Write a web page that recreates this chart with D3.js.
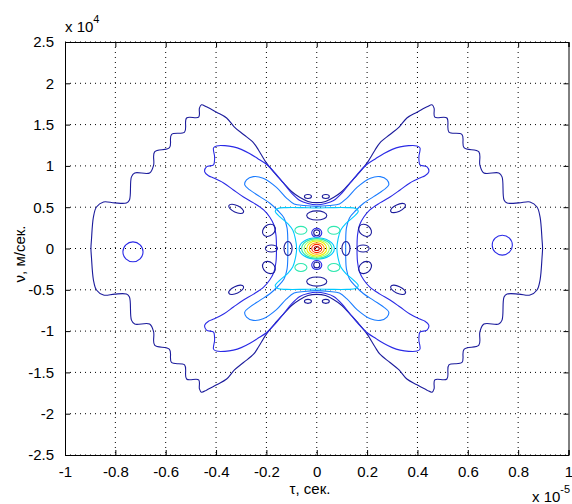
<!DOCTYPE html>
<html>
<head>
<meta charset="utf-8">
<script src="https://cdn.jsdelivr.net/npm/d3@7"></script>
<style>
  body { margin: 0; background: #fff; }
  svg { display: block; font-family: "Liberation Sans", Arial, sans-serif; }
</style>
</head>
<body>
<svg id="chart" width="572" height="504"></svg>
<script>
// ticks (tau in 1e-5 s, nu in 1e4 m/s)
var tauTicks = [-1, -0.8, -0.6, -0.4, -0.2, 0, 0.2, 0.4, 0.6, 0.8, 1];
var tauLabels = ['-1', '-0.8', '-0.6', '-0.4', '-0.2', '0', '0.2', '0.4', '0.6', '0.8', '1'];
var nuTicks = [-2.5, -2, -1.5, -1, -0.5, 0, 0.5, 1, 1.5, 2, 2.5];
var nuLabels = ['-2.5', '-2', '-1.5', '-1', '-0.5', '0', '0.5', '1', '1.5', '2', '2.5'];

// contour level colours (jet)
var levelColors = ['#1c1c9c', '#2a2ae6', '#1a7cff', '#00c8ff', '#30e8b0', '#9cff60', '#f0f000', '#ffa000', '#ff3000', '#c00000'];

// first quadrant of each symmetric contour: from tau = 0 to nu = 0
var outerQ1 = [[0, 0.555], [0.035, 0.57], [0.068, 0.62], [0.10, 0.69], [0.132, 0.794], [0.168, 0.915],
  [0.20, 1.036], [0.231, 1.19], [0.251, 1.28], [0.291, 1.38], [0.327, 1.47], [0.358, 1.58],
  [0.398, 1.65], [0.438, 1.715], [0.458, 1.74], [0.466, 1.70], [0.469, 1.59], [0.517, 1.58],
  [0.525, 1.41], [0.577, 1.38], [0.585, 1.22], [0.644, 1.17], [0.648, 1.01], [0.664, 0.915],
  [0.723, 0.915], [0.736, 0.867], [0.744, 0.588], [0.756, 0.552], [0.803, 0.552], [0.847, 0.564],
  [0.875, 0.503], [0.887, 0.382], [0.895, 0.103], [0.897, 0]];
var armQ1 = [[0, 0.53], [0.035, 0.545], [0.067, 0.58], [0.10, 0.67], [0.132, 0.79], [0.167, 0.92],
  [0.20, 1.02], [0.235, 1.09], [0.267, 1.15], [0.30, 1.20], [0.331, 1.23], [0.365, 1.245],
  [0.398, 1.242], [0.41, 1.218], [0.406, 1.12], [0.406, 1.073], [0.41, 1.012], [0.438, 0.988],
  [0.445, 0.927], [0.43, 0.88], [0.41, 0.855], [0.37, 0.794], [0.331, 0.709], [0.291, 0.624],
  [0.251, 0.552], [0.211, 0.467], [0.187, 0.382], [0.170, 0.285], [0.162, 0.164], [0.160, 0]];
var innerArmQ1 = [[0, 0.51], [0.05, 0.52], [0.09, 0.54], [0.12, 0.61], [0.16, 0.74], [0.213, 0.851],
  [0.252, 0.870], [0.279, 0.83], [0.286, 0.77], [0.266, 0.709], [0.226, 0.628], [0.186, 0.548],
  [0.155, 0.46], [0.13, 0.37], [0.118, 0.25], [0.115, 0.1], [0.115, 0]];
var crossQ1 = [[0, 0.49], [0.06, 0.495], [0.12, 0.495], [0.155, 0.485], [0.165, 0.45], [0.145, 0.38],
  [0.115, 0.30], [0.095, 0.22], [0.085, 0.12], [0.08, 0]];
var quadContours = [
  { level: 0, points: outerQ1 },
  { level: 1, points: armQ1 },
  { level: 2, points: innerArmQ1 },
  { level: 3, points: crossQ1 }
];

// small closed contours: centre tau, centre nu, half width (tau), half height (nu), tilt, level
var blobs = [
  [0.323, 0.49, 0.032, 0.042, -25, 0], [-0.32, 0.48, 0.032, 0.042, 25, 0],
  [-0.32, -0.50, 0.032, 0.042, -25, 0], [0.323, -0.50, 0.032, 0.042, 25, 0],
  [0.192, 0.22, 0.028, 0.065, 40, 0], [-0.19, 0.22, 0.028, 0.065, -40, 0],
  [-0.19, -0.23, 0.028, 0.065, 40, 0], [0.192, -0.23, 0.028, 0.065, -40, 0],
  [0.184, 0, 0.024, 0.042, 0, 0], [-0.18, 0, 0.024, 0.042, 0, 0],
  [0.116, 0, 0.016, 0.085, 0, 0], [-0.114, 0, 0.016, 0.085, 0, 0],
  [-0.035, 0.63, 0.014, 0.024, 0, 0], [0.036, 0.63, 0.014, 0.024, 0, 0],
  [-0.035, -0.64, 0.014, 0.024, 0, 0], [0.036, -0.64, 0.014, 0.024, 0, 0],
  [0, 0.40, 0.04, 0.055, 0, 0], [0, -0.40, 0.04, 0.055, 0, 0],
  [0, 0.19, 0.012, 0.036, 0, 0], [0, -0.20, 0.012, 0.036, 0, 0],
  [0, 0.19, 0.02, 0.055, 0, 1], [0, -0.20, 0.02, 0.055, 0, 1],
  [-0.73, -0.04, 0.04, 0.12, 0, 1], [0.737, 0.04, 0.04, 0.12, 0, 1],
  [-0.063, 0.22, 0.024, 0.048, 0, 4], [0.068, 0.22, 0.024, 0.048, 0, 4],
  [-0.063, -0.23, 0.024, 0.048, 0, 4], [0.068, -0.23, 0.024, 0.048, 0, 4]
];

// concentric rings round the main peak
var peakLevels = [3, 4, 5, 6, 7, 8, 9];
var peakTau = [0.07, 0.06, 0.05, 0.04, 0.03, 0.02, 0.01];
var peakNu = [0.13, 0.12, 0.105, 0.09, 0.07, 0.05, 0.025];

var margin = { top: 42, right: 3.5, bottom: 49, left: 65 };
var svg = d3.select('svg');
var width = +svg.attr('width') - margin.left - margin.right;
var height = +svg.attr('height') - margin.top - margin.bottom;

var g = svg.append('g').attr('transform', 'translate(' + margin.left + ',' + margin.top + ')');

var x = d3.scaleLinear().domain([-1, 1]).range([0, width]);
var y = d3.scaleLinear().domain([-2.5, 2.5]).range([height, 0]);

// dotted grid
g.append('g').selectAll('line').data(tauTicks.slice(1, -1)).enter().append('line')
  .attr('x1', function(d) { return x(d); }).attr('x2', function(d) { return x(d); })
  .attr('y1', 0).attr('y2', height)
  .attr('stroke', '#000').attr('stroke-width', 1).attr('stroke-dasharray', '1,4');
g.append('g').selectAll('line').data(nuTicks).enter().append('line')
  .attr('y1', function(d) { return y(d); }).attr('y2', function(d) { return y(d); })
  .attr('x1', 0).attr('x2', width)
  .attr('stroke', '#000').attr('stroke-width', 1).attr('stroke-dasharray', '1,4');

// build a closed contour from its first quadrant by the chart's symmetry
function mirrorRing(q) {
  var q4 = q.slice().reverse().map(function(p) { return [p[0], -p[1]]; });
  var q3 = q.map(function(p) { return [-p[0], -p[1]]; });
  var q2 = q.slice().reverse().map(function(p) { return [-p[0], p[1]]; });
  return q.concat(q4.slice(1), q3.slice(1), q2.slice(1, -1));
}

var ringLine = d3.line()
  .x(function(d) { return x(d[0]); })
  .y(function(d) { return y(d[1]); })
  .curve(d3.curveCatmullRomClosed.alpha(0.5));

var contours = g.append('g').attr('fill', 'none').attr('stroke-width', 1.1);

quadContours.forEach(function(c) {
  contours.append('path')
    .datum(mirrorRing(c.points))
    .attr('stroke', levelColors[c.level])
    .attr('d', ringLine);
});

blobs.forEach(function(b) {
  var cx = x(b[0]), cy = y(b[1]);
  contours.append('ellipse')
    .attr('cx', cx).attr('cy', cy)
    .attr('rx', x(b[0] + b[2]) - cx)
    .attr('ry', cy - y(b[1] + b[3]))
    .attr('transform', 'rotate(' + b[4] + ',' + cx + ',' + cy + ')')
    .attr('stroke', levelColors[b[5]]);
});

peakLevels.forEach(function(lv, i) {
  contours.append('ellipse')
    .attr('cx', x(0)).attr('cy', y(0))
    .attr('rx', x(peakTau[i]) - x(0))
    .attr('ry', y(0) - y(peakNu[i]))
    .attr('stroke', levelColors[lv]);
});

// axes box with inward ticks
var xAxisB = d3.axisBottom(x).tickValues(tauTicks).tickSize(-5).tickPadding(11)
  .tickFormat(function(d, i) { return tauLabels[i]; });
var xAxisT = d3.axisTop(x).tickValues(tauTicks).tickSize(-5).tickFormat('');
var yAxisL = d3.axisLeft(y).tickValues(nuTicks).tickSize(-5).tickPadding(11)
  .tickFormat(function(d, i) { return nuLabels[i]; });
var yAxisR = d3.axisRight(y).tickValues(nuTicks).tickSize(-5).tickFormat('');

function styleAxis(sel) {
  sel.selectAll('.domain').attr('stroke', '#000');
  sel.selectAll('.tick line').attr('stroke', '#000');
  sel.selectAll('text').attr('fill', '#000').style('font-size', '15px')
    .style('font-family', '"Liberation Sans", Arial, sans-serif');
}

g.append('g').attr('transform', 'translate(0,' + height + ')').call(xAxisB).call(styleAxis);
g.append('g').call(xAxisT).call(styleAxis);
g.append('g').call(yAxisL).call(styleAxis);
g.append('g').attr('transform', 'translate(' + width + ',0)').call(yAxisR).call(styleAxis);

// exponent labels
var expTop = svg.append('text').attr('x', 65).attr('y', 32).style('font-size', '15px');
expTop.append('tspan').text('x 10');
expTop.append('tspan').attr('dy', -9).style('font-size', '11px').text('4');

var expBottom = svg.append('text').attr('x', 532).attr('y', 502).style('font-size', '15px');
expBottom.append('tspan').text('x 10');
expBottom.append('tspan').attr('dy', -9).style('font-size', '11px').text('-5');

// axis titles
svg.append('text').attr('x', 310).attr('y', 494).attr('text-anchor', 'middle')
  .style('font-size', '15px').text('τ, сек.');
svg.append('text').attr('transform', 'translate(25,254) rotate(-90)').attr('text-anchor', 'middle')
  .style('font-size', '15px').text('ν, м/сек.');
</script>
</body>
</html>
